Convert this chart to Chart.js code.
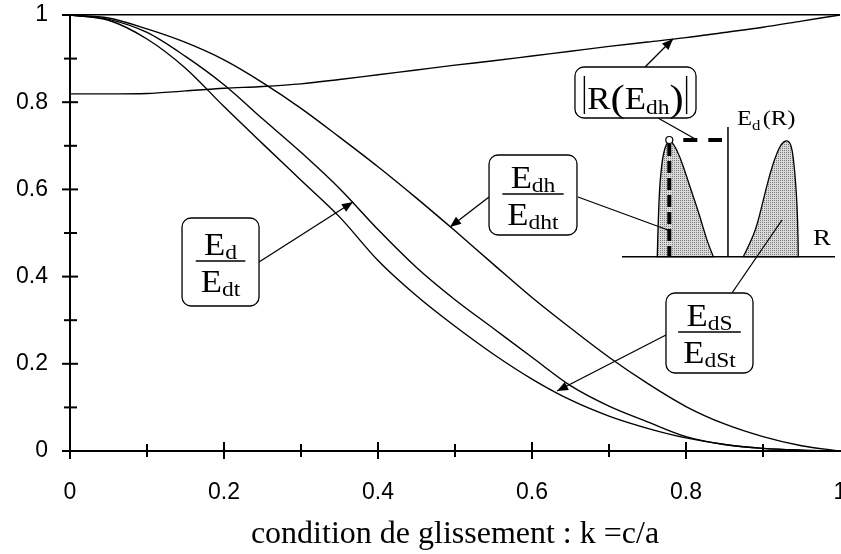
<!DOCTYPE html>
<html>
<head>
<meta charset="utf-8">
<script src="https://cdn.jsdelivr.net/npm/chart.js@4.4.0/dist/chart.umd.min.js"></script>
<style>
  html, body { margin: 0; padding: 0; background: #fff; }
</style>
</head>
<body>
<canvas id="chart" width="841" height="554"></canvas>
<script>
// k = c/a
const kValues = [0, 0.05, 0.1, 0.15, 0.2, 0.25, 0.3, 0.35, 0.4, 0.45, 0.5, 0.55, 0.6, 0.65, 0.7, 0.75, 0.8, 0.85, 0.9, 0.95, 1];
const rEdhModule = [0.819, 0.819, 0.820, 0.826, 0.832, 0.836, 0.842, 0.852, 0.863, 0.874, 0.885, 0.895, 0.906, 0.917, 0.928, 0.938, 0.948, 0.960, 0.972, 0.986, 1.000];
const edhRatio = [1.000, 0.993, 0.968, 0.937, 0.897, 0.845, 0.786, 0.720, 0.652, 0.580, 0.505, 0.428, 0.352, 0.282, 0.215, 0.155, 0.102, 0.062, 0.033, 0.012, 0.000];
const edRatio = [1.000, 0.990, 0.960, 0.905, 0.840, 0.762, 0.685, 0.602, 0.508, 0.421, 0.347, 0.281, 0.215, 0.150, 0.103, 0.067, 0.033, 0.015, 0.006, 0.002, 0.000];
const edsRatio = [1.000, 0.988, 0.945, 0.878, 0.790, 0.705, 0.621, 0.537, 0.437, 0.356, 0.286, 0.222, 0.165, 0.117, 0.080, 0.052, 0.030, 0.015, 0.006, 0.002, 0.000];

const xTitle = 'condition de glissement : k =c/a';

// étiquettes encadrées (coordonnées en unités des axes)
const fractionBoxes = [
    { rect: [0.1455, 0.5344, 0.2455, 0.3326], num: 'd', den: 'dt', arrow: [0.2455, 0.4335, 0.3675, 0.5711] },
    { rect: [0.5442, 0.6789, 0.6584, 0.4954], num: 'dh', den: 'dht', arrow: [0.5442, 0.5826, 0.4935, 0.5138], leader: [0.6597, 0.5826, 0.7766, 0.5069] },
    { rect: [0.7740, 0.3624, 0.8870, 0.1789], num: 'dS', den: 'dSt', arrow: [0.7740, 0.2661, 0.6325, 0.1376], leader: [0.8597, 0.3624, 0.9247, 0.5298] }
];
const moduleBox = { rect: [0.6558, 0.8807, 0.8130, 0.7638], arrow: [0.7468, 0.8807, 0.7831, 0.9450], leader: [0.7636, 0.7638, 0.8143, 0.7133] };

// petit schéma E_d(R)
const insetBase = { v: 0.4456, k0: 0.7169, k1: 0.9935, axisK: 0.8545, axisTop: 0.7431 };
const leftPeak = [[0.7627, 0.4456], [0.7645, 0.5757], [0.7684, 0.6599], [0.7727, 0.6979], [0.7783, 0.7133], [0.7835, 0.7057], [0.7922, 0.6750], [0.8009, 0.6291], [0.8095, 0.5833], [0.8182, 0.5374], [0.8269, 0.4839], [0.8355, 0.4456]];
const rightPeak = [[0.8744, 0.4456], [0.8831, 0.4764], [0.8918, 0.5144], [0.9004, 0.5757], [0.9091, 0.6369], [0.9178, 0.6828], [0.9243, 0.7057], [0.9308, 0.7133], [0.9360, 0.7057], [0.9394, 0.6750], [0.9429, 0.6062], [0.9451, 0.5298], [0.9458, 0.4456]];

const SERIF = '"Liberation Serif", "Times New Roman", serif';
const SANS = '"Liberation Sans", Arial, sans-serif';
const STRETCH = 1.12;

function toPoints(values) {
    return kValues.map((k, i) => ({ x: k, y: values[i] }));
}

function tickLabel(v) {
    const n = Math.round(v * 10);
    if (n % 2) return '';
    if (n === 0) return '0';
    if (n === 10) return '1';
    return (n / 10).toFixed(1);
}

function line(ctx, x1, y1, x2, y2) {
    ctx.beginPath();
    ctx.moveTo(x1, y1);
    ctx.lineTo(x2, y2);
    ctx.stroke();
}

function arrow(ctx, x1, y1, x2, y2) {
    line(ctx, x1, y1, x2, y2);
    const a = Math.atan2(y2 - y1, x2 - x1);
    const len = 11, half = 4.5;
    ctx.beginPath();
    ctx.moveTo(x2, y2);
    ctx.lineTo(x2 - len * Math.cos(a) + half * Math.sin(a), y2 - len * Math.sin(a) - half * Math.cos(a));
    ctx.lineTo(x2 - len * Math.cos(a) - half * Math.sin(a), y2 - len * Math.sin(a) + half * Math.cos(a));
    ctx.closePath();
    ctx.fill();
}

// texte composé (indices), centré sur cx, étiré horizontalement
function textRun(ctx, parts, cx, baseY) {
    let w = 0;
    parts.forEach(p => {
        ctx.font = p.size + 'px ' + SERIF;
        p.w = ctx.measureText(p.t).width;
        w += p.w;
    });
    ctx.save();
    ctx.translate(cx, baseY);
    ctx.scale(STRETCH, 1);
    ctx.textAlign = 'left';
    ctx.textBaseline = 'alphabetic';
    let xx = -w / 2;
    parts.forEach(p => {
        ctx.font = p.size + 'px ' + SERIF;
        ctx.fillText(p.t, xx, p.dy || 0);
        xx += p.w;
    });
    ctx.restore();
    return w * STRETCH;
}

function roundBox(ctx, x1, y1, x2, y2) {
    ctx.beginPath();
    ctx.roundRect(x1, y1, x2 - x1, y2 - y1, 9);
    ctx.fillStyle = '#fff';
    ctx.fill();
    ctx.stroke();
    ctx.fillStyle = '#000';
}

function smoothPath(ctx, pts) {
    ctx.moveTo(pts[0][0], pts[0][1]);
    for (let i = 1; i < pts.length - 1; i++) {
        const mx = (pts[i][0] + pts[i + 1][0]) / 2;
        const my = (pts[i][1] + pts[i + 1][1]) / 2;
        ctx.quadraticCurveTo(pts[i][0], pts[i][1], mx, my);
    }
    const last = pts[pts.length - 1];
    ctx.lineTo(last[0], last[1]);
}

let dotPattern = null;
function getDots(ctx) {
    if (dotPattern) return dotPattern;
    const c = document.createElement('canvas');
    c.width = 2; c.height = 2;
    const g = c.getContext('2d');
    g.fillStyle = '#dadada';
    g.fillRect(0, 0, 2, 2);
    g.fillStyle = '#7a7a7a';
    g.fillRect(0, 0, 1, 1);
    dotPattern = ctx.createPattern(c, 'repeat');
    return dotPattern;
}

const figurePlugin = {
    id: 'figure',
    afterDraw(chart) {
        const { ctx, chartArea, scales: { x, y } } = chart;
        const P = (k, v) => [x.getPixelForValue(k), y.getPixelForValue(v)];
        ctx.save();
        ctx.strokeStyle = '#000';
        ctx.fillStyle = '#000';

        // graduations croisant les axes
        ctx.lineWidth = 2;
        for (let i = 0; i <= 10; i++) {
            const major = i % 2 === 0;
            const py = y.getPixelForValue(i / 10);
            line(ctx, chartArea.left - (major ? 8 : 6), py, chartArea.left + (major ? 8 : 7), py);
            if (i < 10) {
                const pxx = x.getPixelForValue(i / 10);
                line(ctx, pxx, chartArea.bottom - (major ? 9 : 7), pxx, chartArea.bottom + (major ? 8 : 6));
            }
        }

        // schéma E_d(R)
        const lp = leftPeak.map(p => P(p[0], p[1]));
        const rp = rightPeak.map(p => P(p[0], p[1]));
        ctx.lineWidth = 1.3;
        [lp, rp].forEach(pts => {
            ctx.beginPath();
            smoothPath(ctx, pts);
            ctx.closePath();
            ctx.fillStyle = getDots(ctx);
            ctx.fill();
            ctx.stroke();
        });
        ctx.fillStyle = '#000';
        const [bx0, by] = P(insetBase.k0, insetBase.v);
        const [bx1] = P(insetBase.k1, insetBase.v);
        const [ax, ayTop] = P(insetBase.axisK, insetBase.axisTop);
        ctx.lineWidth = 1.5;
        line(ctx, bx0, by, bx1, by);
        line(ctx, ax, by, ax, ayTop);

        const peak = lp[4];
        ctx.lineWidth = 4;
        ctx.setLineDash([12, 5]);
        line(ctx, peak[0], peak[1] + 4, peak[0], by);
        ctx.setLineDash([14, 11]);
        line(ctx, peak[0] + 14, peak[1], ax - 6, peak[1]);
        ctx.setLineDash([]);
        ctx.lineWidth = 1.2;
        ctx.beginPath();
        ctx.arc(peak[0], peak[1], 3.5, 0, Math.PI * 2);
        ctx.fillStyle = '#fff';
        ctx.fill();
        ctx.stroke();
        ctx.fillStyle = '#000';

        // étiquettes du schéma
        const [ex, ey] = P(0.8662, 0.7477);
        ctx.save();
        ctx.translate(ex, ey);
        ctx.scale(STRETCH, 1);
        ctx.textAlign = 'left';
        ctx.font = '22px ' + SERIF;
        ctx.fillText('E', 0, 0);
        let wE = ctx.measureText('E').width;
        ctx.font = '15px ' + SERIF;
        ctx.fillText('d', wE, 5);
        wE += ctx.measureText('d').width + 2;
        ctx.font = '22px ' + SERIF;
        ctx.fillText('(R)', wE, 0);
        ctx.restore();
        const [rx, ry] = P(0.965, 0.4725);
        ctx.save();
        ctx.translate(rx, ry);
        ctx.scale(STRETCH, 1);
        ctx.textAlign = 'left';
        ctx.font = '24px ' + SERIF;
        ctx.fillText('R', 0, 0);
        ctx.restore();

        // flèches et traits de rappel
        ctx.lineWidth = 1.3;
        fractionBoxes.concat([moduleBox]).forEach(b => {
            const a1 = P(b.arrow[0], b.arrow[1]), a2 = P(b.arrow[2], b.arrow[3]);
            arrow(ctx, a1[0], a1[1], a2[0], a2[1]);
            if (b.leader) {
                const l1 = P(b.leader[0], b.leader[1]), l2 = P(b.leader[2], b.leader[3]);
                line(ctx, l1[0], l1[1], l2[0], l2[1]);
            }
        });

        // cadres avec fractions
        fractionBoxes.forEach(b => {
            const [x1, y1] = P(b.rect[0], b.rect[1]);
            const [x2, y2] = P(b.rect[2], b.rect[3]);
            ctx.lineWidth = 1.3;
            roundBox(ctx, x1, y1, x2, y2);
            const cx = (x1 + x2) / 2, ly = (y1 + y2) / 2 - 1;
            const wn = textRun(ctx, [{ t: 'E', size: 31 }, { t: b.num, size: 21, dy: 4 }], cx, ly - 6);
            const wd = textRun(ctx, [{ t: 'E', size: 31 }, { t: b.den, size: 21, dy: 4 }], cx, ly + 31);
            const half = Math.max(wn, wd) / 2 + 5;
            ctx.lineWidth = 1.3;
            line(ctx, cx - half, ly, cx + half, ly);
        });

        // cadre |R(E_dh)|
        const [mx1, my1] = P(moduleBox.rect[0], moduleBox.rect[1]);
        const [mx2, my2] = P(moduleBox.rect[2], moduleBox.rect[3]);
        roundBox(ctx, mx1, my1, mx2, my2);
        const mcx = (mx1 + mx2) / 2, mby = my2 - 9;
        const wm = textRun(ctx, [
            { t: 'R', size: 31 },
            { t: '(', size: 38, dy: 2 },
            { t: 'E', size: 31 },
            { t: 'dh', size: 21, dy: 5 },
            { t: ')', size: 38, dy: 2 }
        ], mcx, mby);
        ctx.lineWidth = 1.4;
        line(ctx, mcx - wm / 2 - 3, mby - 33, mcx - wm / 2 - 3, mby + 5);
        line(ctx, mcx + wm / 2 + 3, mby - 33, mcx + wm / 2 + 3, mby + 5);

        ctx.restore();
    }
};

const curveStyle = {
    borderColor: '#000',
    borderWidth: 1.4,
    pointRadius: 0,
    fill: false,
    cubicInterpolationMode: 'monotone'
};

new Chart(document.getElementById('chart'), {
    type: 'line',
    data: {
        datasets: [
            Object.assign({ label: '|R(Edh)|', data: toPoints(rEdhModule) }, curveStyle),
            Object.assign({ label: 'Edh/Edht', data: toPoints(edhRatio) }, curveStyle),
            Object.assign({ label: 'Ed/Edt', data: toPoints(edRatio) }, curveStyle),
            Object.assign({ label: 'EdS/EdSt', data: toPoints(edsRatio) }, curveStyle)
        ]
    },
    options: {
        responsive: false,
        animation: false,
        devicePixelRatio: 1,
        layout: { padding: { top: 15, right: 1, bottom: 0, left: 0 } },
        plugins: {
            legend: { display: false },
            tooltip: { enabled: false }
        },
        scales: {
            x: {
                type: 'linear',
                min: 0,
                max: 1,
                afterFit: (scale) => {
                    scale.height = 103;
                    scale.paddingLeft = 0;
                    scale.paddingRight = 0;
                },
                ticks: {
                    stepSize: 0.1,
                    autoSkip: false,
                    maxRotation: 0,
                    padding: 28,
                    color: '#000',
                    font: { family: SANS, size: 23 },
                    callback: tickLabel
                },
                grid: { display: false, drawTicks: false },
                border: { display: true, color: '#000', width: 2 },
                title: {
                    display: true,
                    text: xTitle,
                    color: '#000',
                    font: { family: SERIF, size: 32 },
                    padding: { top: 0, bottom: 0 }
                }
            },
            y: {
                type: 'linear',
                min: 0,
                max: 1,
                afterFit: (scale) => {
                    scale.width = 70;
                    scale.paddingTop = 0;
                    scale.paddingBottom = 0;
                },
                ticks: {
                    stepSize: 0.1,
                    autoSkip: false,
                    padding: 22,
                    color: '#000',
                    font: { family: SANS, size: 23 },
                    callback: tickLabel
                },
                grid: {
                    drawTicks: false,
                    lineWidth: 1.6,
                    color: (c) => (c.tick && Math.abs(c.tick.value - 1) < 1e-6) ? '#000' : 'rgba(0,0,0,0)'
                },
                border: { display: true, color: '#000', width: 2 }
            }
        }
    },
    plugins: [figurePlugin]
});
</script>
</body>
</html>
